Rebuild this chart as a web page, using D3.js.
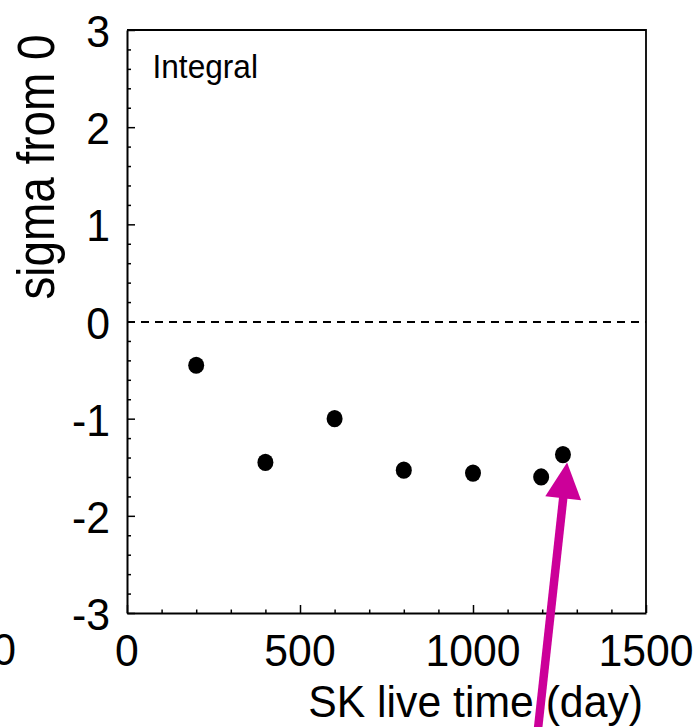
<!DOCTYPE html>
<html><head><meta charset="utf-8">
<script src="https://cdn.jsdelivr.net/npm/d3@7"></script>
<style>body{margin:0;background:#fff}svg{display:block}text{font-family:"Liberation Sans",Arial,sans-serif;fill:#000}</style>
</head><body><svg id="c" width="700" height="727"></svg>
<script>
const liveTime = [200, 400, 600, 800, 1000, 1197, 1260];
const sigma = [-0.45, -1.45, -1.0, -1.53, -1.56, -1.60, -1.37];
const xTicks = [0, 500, 1000, 1500];
const yTicks = [3, 2, 1, 0, -1, -2, -3];
const arrowFrom = [1183, -4.35];
const arrowTo = [1272, -1.45];

const svg = d3.select("#c");
const x = d3.scaleLinear().domain([0, 1500]).range([127, 646]);
const y = d3.scaleLinear().domain([-3, 3]).range([613, 30]);

// frame top/right
svg.append("path").attr("d", `M${x(0)},${y(3)}H${x(1500)}V${y(-3)}`)
  .attr("fill", "none").attr("stroke", "#000").attr("stroke-width", 1.8);

// x axis
const xa = svg.append("g").attr("transform", `translate(0,${y(-3)})`)
  .call(d3.axisBottom(x).tickValues(d3.range(0, 1501, 100)).tickSizeInner(-3.5).tickSizeOuter(0).tickFormat(""));
xa.selectAll(".tick line").attr("y2", d => d % 500 === 0 ? -8 : -3.5).attr("stroke-width", 1.5);
xa.select(".domain").attr("stroke-width", 2);
// y axis
const ya = svg.append("g").attr("transform", `translate(${x(0)},0)`)
  .call(d3.axisLeft(y).tickValues(d3.range(-30, 31, 2).map(v => v / 10)).tickSizeInner(-4).tickSizeOuter(0).tickFormat(""));
ya.selectAll(".tick line").attr("x2", d => Math.abs(d - Math.round(d)) < 1e-6 ? 8 : 4).attr("stroke-width", 1.5);
ya.select(".domain").attr("stroke-width", 2);

function label(t, px, py, size, anchor, sx, rot) {
  svg.append("text").text(t).attr("font-size", size).attr("text-anchor", anchor || "start")
    .attr("transform", `translate(${px},${py})` + (rot ? ` rotate(${rot})` : "") + ` scale(${sx},1)`);
}
xTicks.forEach(v => label(String(v), x(v), 666, 45, "middle", 0.95));
yTicks.forEach(v => label(String(v), 110, y(v) + 17, 45, "end", 0.95));
label("1500", 16, 665, 45, "end", 0.95);
label("SK live time (day)", 643, 717, 45, "end", 0.95);
label("sigma from 0", 54, 167, 51, "middle", 0.9, -90);
label("Integral", 152.5, 78, 34, "start", 0.93);

// zero line
const y0 = Math.round(y(0));
svg.append("line").attr("x1", x(0)).attr("x2", x(1500)).attr("y1", y0).attr("y2", y0)
  .attr("stroke", "#000").attr("stroke-width", 2).attr("stroke-dasharray", "8,6");

// points
svg.selectAll("ellipse.pt").data(liveTime).enter().append("ellipse")
  .attr("cx", (d, i) => x(d)).attr("cy", (d, i) => y(sigma[i])).attr("rx", 8).attr("ry", 8.6).attr("fill", "#000");

// arrow
const p0 = [x(arrowFrom[0]), y(arrowFrom[1])], p1 = [x(arrowTo[0]), y(arrowTo[1])];
const dx = p1[0] - p0[0], dy = p1[1] - p0[1], L = Math.hypot(dx, dy);
const ux = dx / L, uy = dy / L, nx = -uy, ny = ux;
const hl = 36, hw = 18;
const b = [p1[0] - ux * hl, p1[1] - uy * hl];
svg.append("line").attr("x1", p0[0]).attr("y1", p0[1]).attr("x2", b[0] + ux * 2).attr("y2", b[1] + uy * 2)
  .attr("stroke", "#cc0099").attr("stroke-width", 8.5);
svg.append("path").attr("d", `M${p1[0]},${p1[1]}L${b[0] + nx * hw},${b[1] + ny * hw}L${b[0] - nx * hw},${b[1] - ny * hw}Z`)
  .attr("fill", "#cc0099");
</script></body></html>
